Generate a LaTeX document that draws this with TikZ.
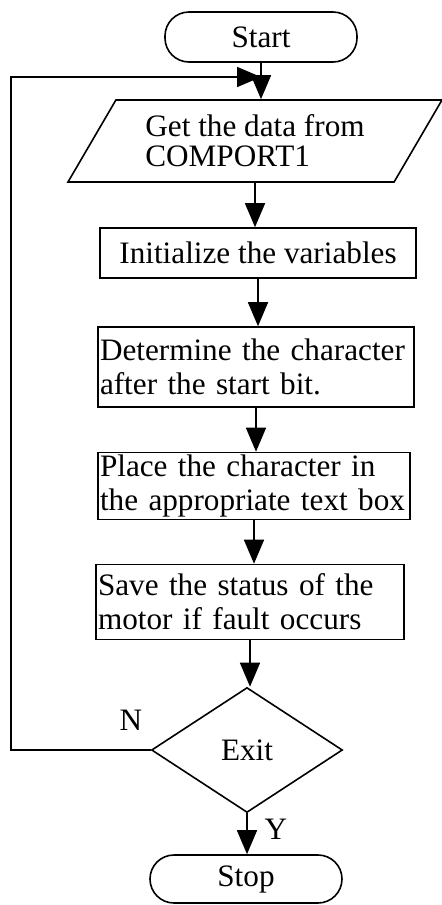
\documentclass[tikz,border=0pt]{standalone}
\usepackage{fontspec}
\setmainfont{Liberation Serif}
\usepackage{tikz}
\usetikzlibrary{arrows,arrows.meta,calc,positioning,shapes.geometric}
\tikzstyle{term} = [draw, rectangle, rounded corners=12pt,
    minimum width=96pt, minimum height=25pt, inner sep=0pt]
\tikzstyle{io} = [draw, trapezium, trapezium left angle=47.5,
    trapezium right angle=132.5, trapezium stretches body,
    minimum width=187pt, minimum height=41pt, inner sep=0pt, align=left]
\tikzstyle{proc} = [draw, rectangle, inner xsep=1pt, inner ysep=0pt, align=left]
\tikzstyle{decide} = [draw, diamond, minimum width=95.5pt, minimum height=62.5pt, inner sep=0pt]
\tikzstyle{flow} = [draw, line width=0.8pt, -{Triangle[length=12pt,width=10pt]}]
\newcommand{\fillline}[1]{\makebox[\hsize][s]{#1}}

\begin{document}
\begin{tikzpicture}[x=0.5pt, y=-0.5pt, line width=0.8pt,
    every node/.style={font=\fontsize{15.6}{17}\selectfont}]
\useasboundingbox (0,0) rectangle (442,905);
\node [term] (start) at (261,37) {Start};
\node [io] (getdata) at (255,141) {Get the data from\\[-2pt]COMPORT1};
\node [proc, minimum width=158pt, minimum height=25pt, align=center] (init) at (258,253)
    {Initialize the variables};
\node [proc, text width=156pt, minimum height=40pt] (determine) at (256,367)
    {\fillline{Determine the character}\\after the start bit.};
\node [proc, text width=154pt, minimum height=33.5pt] (place) at (254,486)
    {\fillline{Place the character in}\\the appropriate text box};
\node [proc, text width=152pt, minimum height=37.5pt] (save) at (250,602)
    {\fillline{Save the status of the}\\motor if fault occurs};
\node [decide] (exit) at (247,750) {Exit};
\node [term, minimum height=24pt] (stop) at (246,879) {Stop};
\node (nlab) at (131,720) {N};
\node (ylab) at (276,829) {Y};

\coordinate (left) at (11,77);
\coordinate (merge) at (start.south |- left);

\draw [flow] (start.south) -- (start.south |- getdata.north);
\draw [flow] (getdata.south) -- (getdata.south |- init.north);
\draw [flow] (init.south) -- (init.south |- determine.north);
\draw [flow] (determine.south) -- (determine.south |- place.north);
\draw [flow] (place.south) -- (place.south |- save.north);
\draw [flow] (save.south) -- (save.south |- exit.north);
\draw [flow] (exit.south) -- (exit.south |- stop.north);
\draw [flow] (exit.west) -| (left) -- (merge);
\end{tikzpicture}
\end{document}
